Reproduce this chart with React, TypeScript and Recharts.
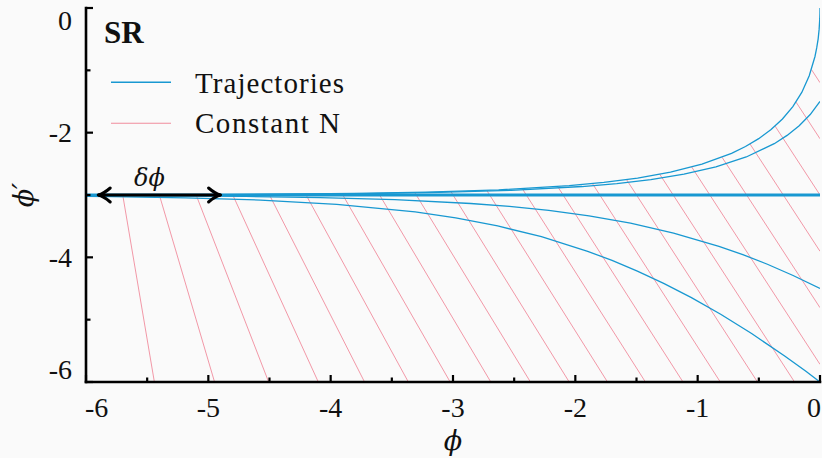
import React from 'react';
import { LineChart, Line, XAxis, YAxis, Legend, ReferenceDot } from 'recharts';

// ---------- ticks ----------
const xMajorTicks = [-6, -5, -4, -3, -2, -1, 0];
const xMinorTicks = [-5.5, -4.5, -3.5, -2.5, -1.5, -0.5];
const yMajorTicks = [0, -2, -4, -6];
const yMinorTicks = [-1, -3, -5];

// ---------- trajectories (phi, phi') ----------
const trajAPhi = [0, -0.0005, -0.002, -0.007, -0.015, -0.027, -0.041, -0.088, -0.149, -0.222, -0.307, -0.4, -0.501, -0.609, -0.723, -0.965, -1.222, -1.491, -1.767, -2.05, -2.627, -3.215, -3.808, -4.405, -5.002, -5.601, -6.0];
const trajADPhi = [0, -0.089, -0.175, -0.339, -0.494, -0.64, -0.778, -1.087, -1.354, -1.583, -1.78, -1.95, -2.096, -2.222, -2.331, -2.504, -2.633, -2.728, -2.798, -2.851, -2.918, -2.955, -2.975, -2.986, -2.993, -2.996, -2.997];

const trajBPhi = [0, -0.08, -0.17, -0.269, -0.374, -0.603, -0.851, -1.112, -1.383, -1.661, -1.945, -2.525, -3.114, -3.708, -4.304, -4.902, -5.501, -6.0];
const trajBDPhi = [-1.5, -1.709, -1.889, -2.044, -2.177, -2.39, -2.548, -2.665, -2.752, -2.816, -2.864, -2.925, -2.959, -2.978, -2.988, -2.993, -2.996, -2.998];

const trajCPhi = [0, -0.22, -0.43, -0.631, -0.826, -1.197, -1.549, -1.888, -2.217, -2.539, -2.855, -3.475, -4.086, -4.693, -5.296, -5.898, -6.0];
const trajCDPhi = [-4.5, -4.291, -4.111, -3.956, -3.823, -3.61, -3.452, -3.335, -3.248, -3.184, -3.136, -3.075, -3.041, -3.023, -3.012, -3.007, -3.006];

const trajDPhi = [0, -0.118, -0.289, -0.559, -0.812, -1.051, -1.278, -1.493, -1.7, -1.899, -2.277, -2.635, -2.978, -3.309, -3.95, -4.573, -5.185, -5.792, -6.0];
const trajDDPhi = [-6, -5.825, -5.582, -5.223, -4.913, -4.646, -4.417, -4.22, -4.05, -3.904, -3.669, -3.496, -3.367, -3.272, -3.149, -3.082, -3.045, -3.025, -3.02];

// slow-roll attractor
const attractorPhi = [-6, 0];
const attractorDPhi = [-3, -3];

// ---------- constant N lines: start (on upper trajectory) and end ----------
const constNStartPhi = [-5.7, -5.401, -5.101, -4.802, -4.503, -4.205, -3.907, -3.609, -3.313, -3.017, -2.724, -2.433, -2.144, -1.86, -1.581, -1.31, -1.049, -0.801, -0.572, -0.367, -0.196, -0.07];
const constNStartDPhi = [-2.996, -2.995, -2.993, -2.991, -2.988, -2.984, -2.978, -2.97, -2.959, -2.945, -2.926, -2.9, -2.865, -2.817, -2.754, -2.667, -2.551, -2.394, -2.182, -1.895, -1.509, -0.987];
const constNEndPhi = [-5.441, -4.949, -4.507, -4.101, -3.723, -3.365, -3.023, -2.691, -2.367, -2.05, -1.737, -1.427, -1.12, -0.815, -0.511, -0.208, 0, 0, 0, 0, 0, 0];
const constNEndDPhi = [-6, -6, -6, -6, -6, -6, -6, -6, -6, -6, -6, -6, -6, -6, -6, -6, -5.717, -4.808, -3.903, -3.0, -2.098, -1.198];

// delta-phi arrow
const arrowPhi = [-5.9, -4.9];
const arrowDPhi = [-3, -3];

// ---------- build series ----------
const toPts = (xs: number[], ys: number[]) => xs.map((x, i) => ({ x, y: ys[i] }));
const trajectories = [
  toPts(trajAPhi, trajADPhi),
  toPts(trajBPhi, trajBDPhi),
  toPts(trajCPhi, trajCDPhi),
  toPts(trajDPhi, trajDDPhi),
];
const attractor = toPts(attractorPhi, attractorDPhi);
const constN = constNStartPhi.map((p, i) => [
  { x: p, y: constNStartDPhi[i] },
  { x: constNEndPhi[i], y: constNEndDPhi[i] },
]);
const arrow = toPts(arrowPhi, arrowDPhi);

// ---------- styles ----------
const BLUE = '#1898d1';
const PINK = '#f08c9d';
const FONT = '"Liberation Serif", "Times New Roman", serif';
const GREEK = '"DejaVu Serif", serif';
const txt = (size: number, extra: any = {}) => ({ fontFamily: FONT, fontSize: size, ...extra });
const TICK_W = 2.2;
const fmt = (v: number) => String(v);

const bottomTick = (p: any) => {
  const v = p.payload.value;
  const major = xMajorTicks.includes(v);
  const len = major ? 7 : 4.5;
  let anchor: any = 'middle';
  let tx = p.x;
  if (v === xMajorTicks[0]) { anchor = 'start'; tx = p.x - 1; }
  if (v === xMajorTicks[xMajorTicks.length - 1]) { anchor = 'end'; tx = p.x + 1; }
  return (
    <g>
      <line x1={p.x} x2={p.x} y1={p.y} y2={p.y - len} stroke="#000" strokeWidth={TICK_W} />
      {major && (
        <text x={tx} y={p.y + 35} textAnchor={anchor} style={txt(28)} fill="#111">{fmt(v)}</text>
      )}
    </g>
  );
};
const topTick = (p: any) => {
  const v = p.payload.value;
  const len = xMajorTicks.includes(v) ? 7 : 4.5;
  return <line x1={p.x} x2={p.x} y1={p.y} y2={p.y + len} stroke="#000" strokeWidth={TICK_W} />;
};
const leftTick = (p: any) => {
  const v = p.payload.value;
  const major = yMajorTicks.includes(v);
  const len = major ? 7 : 4.5;
  let ty = p.y;
  if (v === yMajorTicks[0]) ty = p.y + 12.5;
  if (v === yMajorTicks[yMajorTicks.length - 1]) ty = p.y - 12.5;
  return (
    <g>
      <line x1={p.x} x2={p.x + len} y1={p.y} y2={p.y} stroke="#000" strokeWidth={TICK_W} />
      {major && (
        <text x={p.x - 14} y={ty} dy="0.34em" textAnchor="end" style={txt(28)} fill="#111">{fmt(v)}</text>
      )}
    </g>
  );
};
const rightTick = (p: any) => {
  const v = p.payload.value;
  const len = yMajorTicks.includes(v) ? 7 : 4.5;
  return <line x1={p.x} x2={p.x - len} y1={p.y} y2={p.y} stroke="#000" strokeWidth={TICK_W} />;
};

const xLabel = (p: any) => {
  const vb = p.viewBox || {};
  return (
    <text x={vb.x + vb.width / 2} y={vb.y + 68} textAnchor="middle" style={{ fontFamily: GREEK, fontStyle: 'italic', fontSize: 27 }} fill="#111">ϕ</text>
  );
};
const yLabel = (p: any) => {
  const vb = p.viewBox || {};
  const cx = vb.x + 23.5;
  const cy = vb.y + vb.height / 2;
  return (
    <text x={cx} y={cy} dy="0.35em" textAnchor="middle" transform={`rotate(-90 ${cx} ${cy})`} style={{ fontFamily: GREEK, fontStyle: 'italic', fontSize: 27 }} fill="#111">ϕ′</text>
  );
};

const deltaLabel = (p: any) => {
  const vb = p.viewBox || {};
  const cx = vb.x + (vb.width || 0) / 2;
  const cy = vb.y + (vb.height || 0) / 2;
  return (
    <text x={cx - 10} y={cy - 9} textAnchor="middle" style={{ fontFamily: GREEK, fontStyle: 'italic', fontSize: 24 }} fill="#111">δϕ</text>
  );
};

const arrowHead = (p: any) => {
  const { cx, cy, index } = p;
  const s = index === 0 ? 1 : -1;
  const d = `M ${cx + s * 12} ${cy - 7} Q ${cx + s * 5} ${cy - 1} ${cx} ${cy} Q ${cx + s * 5} ${cy + 1} ${cx + s * 12} ${cy + 7}`;
  return <path key={`ah-${index}`} d={d} fill="none" stroke="#000" strokeWidth={3} strokeLinecap="round" strokeLinejoin="round" />;
};

const legendContent = () => (
  <svg width={420} height={160} style={{ display: 'block' }}>
    <text x={104} y={42.5} style={txt(31, { fontWeight: 'bold' })} fill="#111">SR</text>
    <line x1={111} x2={171} y1={82.3} y2={82.3} stroke={BLUE} strokeWidth={1.4} />
    <text x={195} y={93.3} style={txt(29)} textLength={149} lengthAdjust="spacing" fill="#111">Trajectories</text>
    <line x1={111} x2={171} y1={123.3} y2={123.3} stroke={PINK} strokeWidth={1.1} />
    <text x={195} y={133} style={txt(29)} textLength={145} lengthAdjust="spacing" fill="#111">Constant N</text>
  </svg>
);

const axisLineStyle = { stroke: '#000', strokeWidth: 2.6, strokeLinecap: 'square' as const };
const xTicks = [...xMajorTicks, ...xMinorTicks];
const yTicks = [...yMajorTicks, ...yMinorTicks];

export default function App() {
  return (
    <div style={{ position: 'absolute', left: 0, top: 0, width: 822, height: 458, background: '#fafafa', overflow: 'hidden', fontFamily: FONT }}>
      <LineChart width={822} height={458} margin={{ top: 8, right: 2, bottom: 0, left: 0 }}>
        <XAxis type="number" dataKey="x" domain={[-6, 0]} allowDataOverflow ticks={xTicks} interval={0}
          tickSize={0} tickMargin={0} height={76} axisLine={axisLineStyle} tickLine={false} tick={bottomTick}
          label={xLabel} />
        <XAxis xAxisId="top" orientation="top" type="number" dataKey="x" domain={[-6, 0]} allowDataOverflow ticks={xTicks} interval={0}
          tickSize={0} tickMargin={0} height={0} axisLine={axisLineStyle} tickLine={false} tick={topTick} />
        <YAxis type="number" dataKey="y" domain={[-6, 0]} allowDataOverflow ticks={yTicks} interval={0}
          tickSize={0} tickMargin={0} width={86} axisLine={axisLineStyle} tickLine={false} tick={leftTick}
          label={yLabel} />
        <YAxis yAxisId="right" orientation="right" type="number" dataKey="y" domain={[-6, 0]} allowDataOverflow ticks={yTicks} interval={0}
          tickSize={0} tickMargin={0} width={0} axisLine={axisLineStyle} tickLine={false} tick={rightTick} />

        {constN.map((d, i) => (
          <Line key={`n${i}`} data={d} dataKey="y" type="linear" stroke={PINK} strokeWidth={0.9} dot={false}
            activeDot={false} isAnimationActive={false} legendType="none" />
        ))}
        {trajectories.map((d, i) => (
          <Line key={`t${i}`} data={d} dataKey="y" type="linear" stroke={BLUE} strokeWidth={1.3} dot={false}
            activeDot={false} isAnimationActive={false} legendType="none" />
        ))}
        <Line data={attractor} dataKey="y" type="linear" stroke={BLUE} strokeWidth={3} dot={false}
          activeDot={false} isAnimationActive={false} legendType="none" />
        <Line data={arrow} dataKey="y" type="linear" stroke="#000" strokeWidth={3} dot={arrowHead}
          activeDot={false} isAnimationActive={false} legendType="none" />
        <ReferenceDot x={-5.4} y={-3} r={1} fill="none" stroke="none" label={deltaLabel} />
        <Legend layout="vertical" verticalAlign="middle" align="center" content={legendContent}
          wrapperStyle={{ position: 'absolute', left: 0, top: 0, width: 420, height: 160 }} />
      </LineChart>
    </div>
  );
}
